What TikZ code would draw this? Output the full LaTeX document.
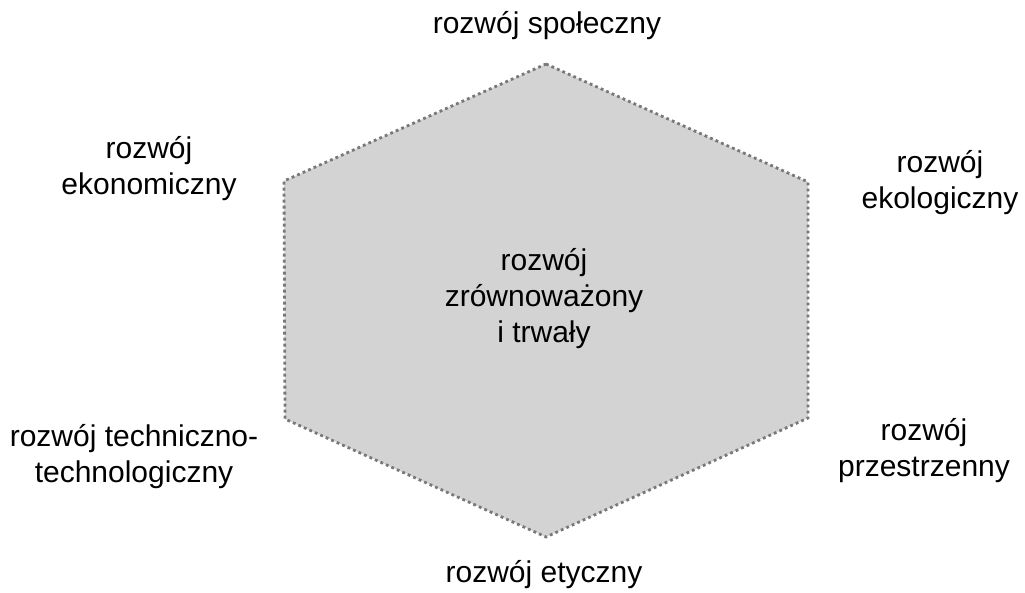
\documentclass[tikz,border=0pt]{standalone}
\usepackage{fontspec}
\setmainfont{Liberation Sans}
\usetikzlibrary{positioning}
\definecolor{hexfill}{RGB}{211,211,211}
\definecolor{hexline}{RGB}{120,120,120}

\begin{document}
\begin{tikzpicture}[x=1pt, y=-1pt,
    label/.style={align=center, inner sep=0pt, font=\fontsize{30}{36}\selectfont}]
      \useasboundingbox (0,0) rectangle (1025,593);

      \coordinate (t)  at (546,64);
      \coordinate (ur) at (808,182);
      \coordinate (lr) at (808,418);
      \coordinate (b)  at (546,537);
      \coordinate (ll) at (285,419);
      \coordinate (ul) at (284,181);

      \draw[hexline, fill=hexfill, line width=2.8pt, dash pattern=on 2.8pt off 3.2pt]
        (t) -- (ur) -- (lr) -- (b) -- (ll) -- (ul) -- cycle;

      \node (c)  [label] at (544,299) {rozwój\\zrównoważony\\i trwały};
      \node (s)  [label] at (547,26)  {rozwój społeczny};
      \node (ek) [label] at (149,169) {rozwój\\ekonomiczny};
      \node (eg) [label] at (940,183) {rozwój\\ekologiczny};
      \node (te) [label] at (134,457) {rozwój techniczno-\\technologiczny};
      \node (pr) [label] at (924,451) {rozwój\\przestrzenny};
      \node (et) [label] at (544,575) {rozwój etyczny};
    \end{tikzpicture}
\end{document}
